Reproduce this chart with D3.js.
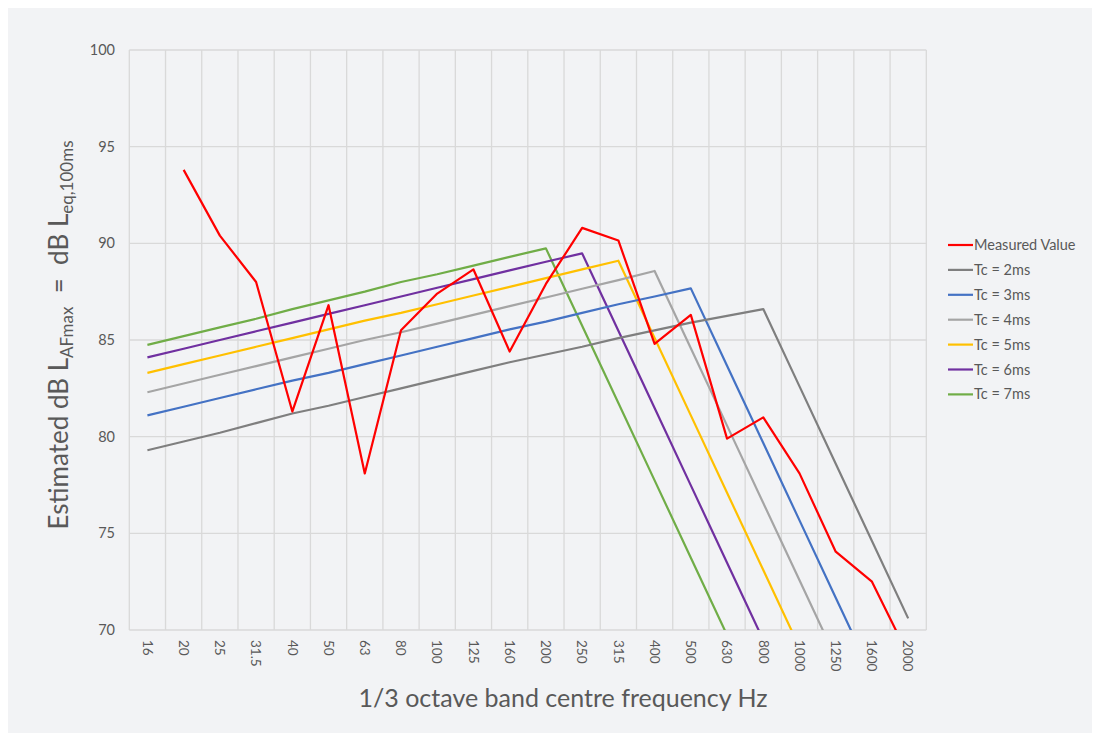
<!DOCTYPE html>
<html>
<head>
<meta charset="utf-8">
<script src="https://cdn.jsdelivr.net/npm/d3@7/dist/d3.min.js"></script>
<style>
  body { margin: 0; background: #fff; }
  text { font-family: Lato, "Open Sans", sans-serif; fill: #595959; }
</style>
</head>
<body>
<svg id="chart" width="1100" height="740"></svg>
<script>
// categories (1/3 octave bands)
var bands = ["16", "20", "25", "31.5", "40", "50", "63", "80", "100", "125", "160",
             "200", "250", "315", "400", "500", "630", "800", "1000", "1250", "1600", "2000"];

var yTicks = [70, 75, 80, 85, 90, 95, 100];

// series values (dB)
var measured = [null, 93.8, 90.4, 88.0, 81.3, 86.8, 78.1, 85.5, 87.4, 88.65, 84.4,
                87.9, 90.8, 90.15, 84.8, 86.3, 79.9, 81.0, 78.1, 74.05, 72.5, 68.7];
var tc2 = [79.3, 79.75, 80.2, 80.7, 81.2, 81.6, 82.05, 82.5, 82.95, 83.4, 83.85,
           84.25, 84.65, 85.1, 85.5, 85.9, 86.25, 86.6, 82.6, 78.6, 74.6, 70.6];
var tc3 = [81.1, 81.55, 82.0, 82.45, 82.9, 83.3, 83.75, 84.2, 84.65, 85.1, 85.55,
           85.95, 86.4, 86.85, 87.25, 87.67, 83.67, 79.67, 75.67, 71.67, 67.67, 63.67];
var tc4 = [82.3, 82.75, 83.2, 83.65, 84.1, 84.55, 85.0, 85.4, 85.85, 86.3, 86.75,
           87.2, 87.65, 88.1, 88.57, 84.57, 80.57, 76.57, 72.57, 68.57, 64.57, 60.57];
var tc5 = [83.3, 83.75, 84.2, 84.65, 85.1, 85.55, 86.0, 86.4, 86.85, 87.3, 87.75,
           88.2, 88.65, 89.1, 85.1, 81.1, 77.1, 73.1, 69.1, 65.1, 61.1, 57.1];
var tc6 = [84.1, 84.55, 85.0, 85.45, 85.9, 86.35, 86.8, 87.25, 87.7, 88.15, 88.6,
           89.05, 89.48, 85.48, 81.48, 77.48, 73.48, 69.48, 65.48, 61.48, 57.48, 53.48];
var tc7 = [84.75, 85.2, 85.65, 86.1, 86.6, 87.05, 87.5, 88.0, 88.4, 88.85, 89.3,
           89.74, 85.74, 81.74, 77.74, 73.74, 69.74, 65.74, 61.74, 57.74, 53.74, 49.74];

var seriesNames = ["Measured Value", "Tc = 2ms", "Tc = 3ms", "Tc = 4ms", "Tc = 5ms", "Tc = 6ms", "Tc = 7ms"];
var seriesColors = ["#ff0000", "#7f7f7f", "#4472c4", "#a5a5a5", "#ffc000", "#7030a0", "#70ad47"];
var seriesValues = [measured, tc2, tc3, tc4, tc5, tc6, tc7];

var svg = d3.select("#chart");

// panel background
svg.append("rect")
  .attr("x", 8).attr("y", 8)
  .attr("width", 1084).attr("height", 725)
  .attr("fill", "#f2f3f5");

var plotLeft = 129.3, plotRight = 926.3, plotTop = 50, plotBottom = 630;

var x = d3.scaleBand()
  .domain(bands)
  .range([plotLeft, plotRight])
  .padding(0);

var y = d3.scaleLinear()
  .domain([70, 100])
  .range([plotBottom, plotTop]);

var bw = x.bandwidth();

// horizontal gridlines
svg.append("g")
  .selectAll("line")
  .data(yTicks)
  .enter().append("line")
  .attr("x1", plotLeft).attr("x2", plotRight)
  .attr("y1", function(d) { return y(d); })
  .attr("y2", function(d) { return y(d); })
  .attr("stroke", "#d9d9d9")
  .attr("stroke-width", 1.3);

// vertical gridlines on band edges
var edges = bands.map(function(b) { return x(b); }).concat([plotRight]);
svg.append("g")
  .selectAll("line")
  .data(edges)
  .enter().append("line")
  .attr("x1", function(d) { return d; })
  .attr("x2", function(d) { return d; })
  .attr("y1", plotTop).attr("y2", plotBottom)
  .attr("stroke", "#d9d9d9")
  .attr("stroke-width", 1.3);

// y tick labels
svg.append("g")
  .selectAll("text")
  .data(yTicks)
  .enter().append("text")
  .attr("x", 115)
  .attr("y", function(d) { return y(d); })
  .attr("dy", "0.35em")
  .attr("text-anchor", "end")
  .style("font-size", "14.5px")
  .text(function(d) { return d; });

// x tick labels, rotated
svg.append("g")
  .selectAll("text")
  .data(bands)
  .enter().append("text")
  .attr("transform", function(d) {
    return "translate(" + (x(d) + bw / 2) + ",640)rotate(90)";
  })
  .attr("dy", "0.35em")
  .attr("text-anchor", "start")
  .style("font-size", "13.5px")
  .text(function(d) { return d; });

// clip to plot area
svg.append("clipPath")
  .attr("id", "plotClip")
  .append("rect")
  .attr("x", plotLeft - 5).attr("y", plotTop - 5)
  .attr("width", plotRight - plotLeft + 10).attr("height", plotBottom - plotTop + 5);

var line = d3.line()
  .defined(function(d) { return d != null; })
  .x(function(d, i) { return x(bands[i]) + bw / 2; })
  .y(function(d) { return y(d); });

var plot = svg.append("g").attr("clip-path", "url(#plotClip)");

// draw Tc lines first, measured on top
[6, 5, 4, 3, 2, 1, 0].forEach(function(k) {
  plot.append("path")
    .datum(seriesValues[k])
    .attr("d", line)
    .attr("fill", "none")
    .attr("stroke", seriesColors[k])
    .attr("stroke-width", 2.2)
    .attr("stroke-linejoin", "round");
});

// legend
var legend = svg.append("g")
  .selectAll("g")
  .data(seriesNames)
  .enter().append("g")
  .attr("transform", function(d, i) { return "translate(948," + (245 + i * 24.9) + ")"; });

legend.append("line")
  .attr("x1", 0).attr("x2", 25)
  .attr("stroke", function(d, i) { return seriesColors[i]; })
  .attr("stroke-width", 2.2);

legend.append("text")
  .attr("x", 26)
  .attr("dy", "0.35em")
  .style("font-size", "14.5px")
  .text(function(d) { return d; });

// axis titles
svg.append("text")
  .attr("x", 563)
  .attr("y", 707)
  .attr("text-anchor", "middle")
  .style("font-size", "25px")
  .text("1/3 octave band centre frequency Hz");

var yTitle = svg.append("text")
  .attr("transform", "translate(68,335)rotate(-90)")
  .attr("text-anchor", "middle")
  .attr("xml:space", "preserve")
  .style("white-space", "pre")
  .style("font-size", "26px");
yTitle.append("tspan").text("Estimated dB L");
yTitle.append("tspan").attr("dy", 5).style("font-size", "17px").text("AFmax");
yTitle.append("tspan").attr("dy", -5).text("  =  dB L");
yTitle.append("tspan").attr("dy", 5).style("font-size", "17px").text("eq,100ms");
</script>
</body>
</html>
